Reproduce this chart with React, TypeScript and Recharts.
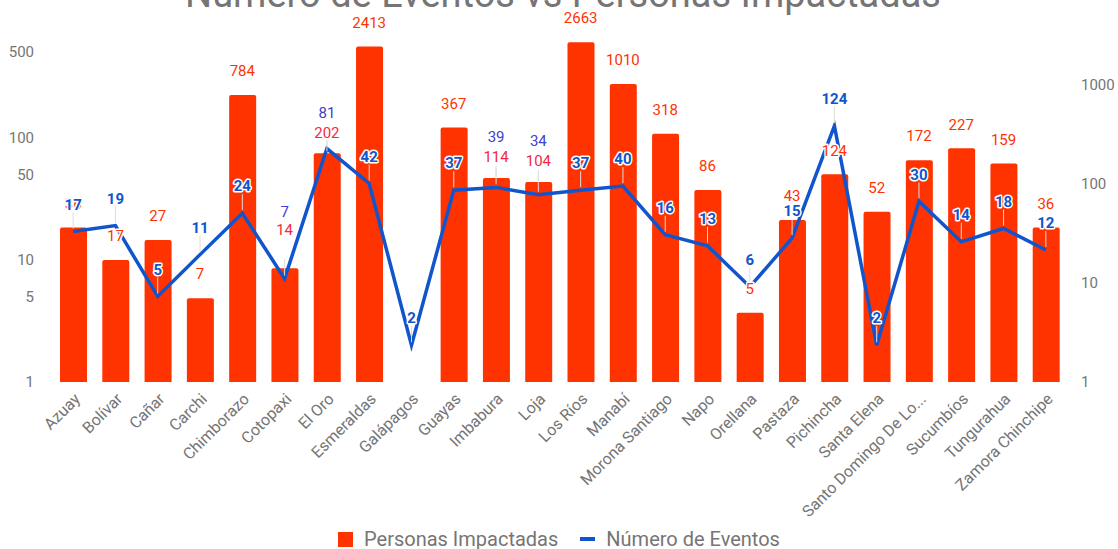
import React from 'react';
import { ComposedChart, Bar, Line, XAxis, YAxis, LabelList, Legend } from 'recharts';

const provincias = [
  'Azuay', 'Bolívar', 'Cañar', 'Carchi', 'Chimborazo', 'Cotopaxi', 'El Oro', 'Esmeraldas',
  'Galápagos', 'Guayas', 'Imbabura', 'Loja', 'Los Ríos', 'Manabí', 'Morona Santiago', 'Napo',
  'Orellana', 'Pastaza', 'Pichincha', 'Santa Elena', 'Santo Domingo De Lo...', 'Sucumbíos',
  'Tungurahua', 'Zamora Chinchipe',
];
const personasImpactadas: (number | null)[] = [
  36, 17, 27, 7, 784, 14, 202, 2413, null, 367, 114, 104, 2663, 1010, 318, 86, 5, 43, 124, 52,
  172, 227, 159, 36,
];
const numeroEventos = [
  17, 19, 5, 11, 24, 7, 81, 42, 2, 37, 39, 34, 37, 40, 16, 13, 6, 15, 124, 2, 30, 14, 18, 12,
];
const eventosTicks = [1, 5, 10, 50, 100, 500];
const personasTicks = [1, 10, 100, 1000];
const eventosDomain = [1, 755];
const personasDomain = [1, 3535];

const SERIES_PERSONAS = 'Personas Impactadas';
const SERIES_EVENTOS = 'Número de Eventos';

const BAR_COLOR = '#ff3300';
const LINE_COLOR = '#1155cc';
const TEXT_COLOR = '#757575';
const STEM_COLOR = '#dcdcdc';
const FONT = 'Roboto, Arial, sans-serif';
const LINE_WIDTH = 3.5;

const data = provincias.map((p, i) => ({
  provincia: p,
  personas: personasImpactadas[i],
  eventos: numeroEventos[i],
}));

// positions collected while rendering (through the library's own scales)
const barTop: Record<number, number> = {};
const linePts: Record<number, { x: number; y: number }> = {};

const PersonasTracker = (props: any) => {
  const { y, value, index } = props;
  if (value == null || y == null) return null;
  barTop[index] = y;
  return null;
};

const EventosStem = (props: any) => {
  const { x, y, value, index } = props;
  if (value == null || x == null || y == null) return null;
  linePts[index] = { x, y };
  return <line x1={x} x2={x} y1={y - 19} y2={y - 3} stroke={STEM_COLOR} strokeWidth={1} />;
};

// does the drawn line cross a label box?
const lineHitsBox = (index: number, bx1: number, bx2: number, by1: number, by2: number) => {
  const pad = LINE_WIDTH / 2;
  for (const j of [index - 1, index]) {
    const a = linePts[j];
    const b = linePts[j + 1];
    if (!a || !b) continue;
    const lo = Math.max(Math.min(a.x, b.x), bx1);
    const hi = Math.min(Math.max(a.x, b.x), bx2);
    if (lo > hi) continue;
    const yAt = (xx: number) => a.y + ((xx - a.x) / (b.x - a.x)) * (b.y - a.y);
    const ya = yAt(lo);
    const yb = yAt(hi);
    const ymin = Math.min(ya, yb) - pad;
    const ymax = Math.max(ya, yb) + pad;
    if (ymax >= by1 && ymin <= by2) return true;
  }
  return false;
};

const CombinedLabels = (props: any) => {
  const { x, y, value, index } = props;
  if (x == null || y == null) return null;
  const bt = barTop[index];
  const personas = personasImpactadas[index];
  let redCy: number | null = bt != null && personas != null ? bt - 24 : null;
  const blueDefault = y - 27;
  let blueCy = blueDefault;
  let collided = false;
  if (redCy != null) {
    const d = Math.abs(blueCy - redCy);
    if (d >= 3 && d <= 11) {
      collided = true;
      redCy += 3;
      const halfW = String(personas).length * 4.3;
      if (lineHitsBox(index, x - halfW, x + halfW, redCy - 7, redCy + 7)) {
        redCy = blueDefault - 22;
        blueCy = redCy - 18;
      } else {
        blueCy = redCy - 20;
      }
    }
  }
  const halo = {
    stroke: '#ffffff',
    strokeWidth: 3,
    strokeLinejoin: 'round' as const,
    paintOrder: 'stroke' as const,
  };
  return (
    <g>
      {collided && redCy != null && bt != null && bt - 2 > redCy + 9 && bt - redCy < 30 && (
        <line x1={x} x2={x} y1={redCy + 9} y2={bt - 2} stroke={STEM_COLOR} strokeWidth={1} />
      )}
      {redCy != null && (
        <text
          x={x}
          y={redCy}
          dy="0.35em"
          textAnchor="middle"
          fontSize={15}
          fontFamily={FONT}
          fill={collided ? '#f5283f' : BAR_COLOR}
          {...halo}
        >
          {personas}
        </text>
      )}
      <text
        x={x}
        y={blueCy}
        dy="0.35em"
        textAnchor="middle"
        fontSize={15}
        fontWeight={collided ? 'normal' : 'bold'}
        fontFamily={FONT}
        fill={collided ? '#4040d2' : LINE_COLOR}
        {...halo}
      >
        {value}
      </text>
    </g>
  );
};

const XTick = (props: any) => {
  const { x, y, payload } = props;
  return (
    <g transform={`translate(${x + 4},${y + 6})`}>
      <text
        textAnchor="end"
        transform="rotate(-45)"
        dy="0.35em"
        fill={TEXT_COLOR}
        fontSize={16}
        fontFamily={FONT}
      >
        {payload.value}
      </text>
    </g>
  );
};

const LegendContent = () => (
  <div
    style={{
      height: 30,
      width: 1118,
      boxSizing: 'border-box',
      paddingTop: 10,
      display: 'flex',
      justifyContent: 'center',
      fontFamily: FONT,
      fontSize: 20,
      lineHeight: '20px',
      color: TEXT_COLOR,
    }}
  >
    <div style={{ display: 'flex', alignItems: 'center', height: 20 }}>
      <span style={{ display: 'inline-block', width: 15, height: 15, background: BAR_COLOR, marginRight: 11 }} />
      <span>{SERIES_PERSONAS}</span>
    </div>
    <div style={{ display: 'flex', alignItems: 'center', height: 20, marginLeft: 22 }}>
      <span style={{ display: 'inline-block', width: 15, height: 4, background: LINE_COLOR, marginRight: 11 }} />
      <span>{SERIES_EVENTOS}</span>
    </div>
  </div>
);

export default function App() {
  return (
    <div
      style={{
        position: 'absolute',
        left: 0,
        top: 0,
        width: 1118,
        height: 549,
        overflow: 'hidden',
        background: '#ffffff',
        fontFamily: FONT,
      }}
    >
      <div
        style={{
          position: 'absolute',
          left: 4,
          top: -25,
          width: 1118,
          textAlign: 'center',
          fontSize: 38,
          lineHeight: '38px',
          color: TEXT_COLOR,
          fontFamily: FONT,
          whiteSpace: 'nowrap',
        }}
      >
        Número de Eventos vs Personas Impactadas
      </div>
      <ComposedChart
        width={1118}
        height={549}
        data={data}
        margin={{ top: 30, right: 0, bottom: 0, left: 7 }}
        style={{ fontFamily: FONT }}
      >
        <XAxis
          dataKey="provincia"
          interval={0}
          tickLine={false}
          axisLine={false}
          height={137}
          tick={<XTick />}
        />
        <YAxis
          yAxisId="left"
          orientation="left"
          scale="log"
          type="number"
          domain={eventosDomain}
          allowDataOverflow
          ticks={eventosTicks}
          interval={0}
          width={45}
          axisLine={false}
          tickLine={false}
          tickMargin={12}
          tick={{ fill: TEXT_COLOR, fontSize: 15, fontFamily: FONT }}
        />
        <YAxis
          yAxisId="right"
          orientation="right"
          scale="log"
          type="number"
          domain={personasDomain}
          allowDataOverflow
          ticks={personasTicks}
          interval={0}
          width={51}
          axisLine={false}
          tickLine={false}
          tickMargin={8}
          tick={{ fill: TEXT_COLOR, fontSize: 15, fontFamily: FONT, textAnchor: 'start' }}
        />
        <Line
          yAxisId="right"
          dataKey="personas"
          stroke="none"
          dot={false}
          activeDot={false}
          legendType="none"
          isAnimationActive={false}
        >
          <LabelList dataKey="personas" content={PersonasTracker} />
        </Line>
        <Line
          yAxisId="left"
          dataKey="eventos"
          stroke="none"
          dot={false}
          activeDot={false}
          legendType="none"
          isAnimationActive={false}
        >
          <LabelList dataKey="eventos" content={EventosStem} />
        </Line>
        <Bar
          yAxisId="right"
          dataKey="personas"
          name={SERIES_PERSONAS}
          fill={BAR_COLOR}
          barSize={27}
          radius={[2, 2, 0, 0]}
          isAnimationActive={false}
        />
        <Line
          yAxisId="left"
          dataKey="eventos"
          name={SERIES_EVENTOS}
          stroke={LINE_COLOR}
          strokeWidth={LINE_WIDTH}
          strokeLinejoin="miter"
          dot={false}
          activeDot={false}
          isAnimationActive={false}
        >
          <LabelList dataKey="eventos" content={CombinedLabels} />
        </Line>
        <Legend
          verticalAlign="bottom"
          content={<LegendContent />}
          wrapperStyle={{ left: 0, width: 1118, height: 30, bottom: 0 }}
        />
      </ComposedChart>
    </div>
  );
}
